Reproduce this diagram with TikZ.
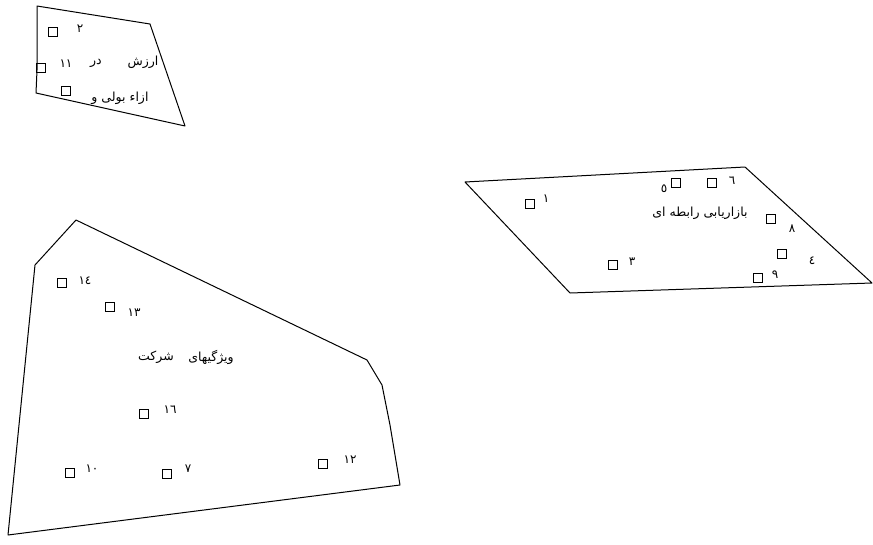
\documentclass[tikz,border=0pt]{standalone}
\usepackage{fontspec}
\TeXXeTstate=1
\newfontfamily\arabicfont[Script=Arabic]{DejaVu Sans}
\begin{document}
\begin{tikzpicture}[x=1pt,y=-1pt,
  sq/.style={draw,line width=0.9pt,minimum size=8.5pt,inner sep=0pt},
  num/.style={font=\arabicfont\fontsize{12}{13}\selectfont,inner sep=0pt},
  ttl/.style={font=\arabicfont\fontsize{12.5}{14}\selectfont,inner sep=0pt},
  edge/.style={line width=1pt,line join=round}]
\useasboundingbox (0,0) rectangle (873,544);
% top-left polygon
\draw[edge] (37,6) -- (150,24) -- (185,126) -- (36,93) -- (37,70) -- cycle;
\node[sq] (s2) at (53,32) {};
\node[num] (l2) at (80,29) {\beginR ٢\endR};
\node[sq] (s11) at (41,68) {};
\node[num] (l11) at (66,64) {\beginR ١١\endR};
\node[ttl] (t1b) at (96,63) {\beginR در\endR};
\node[ttl] (t1a) at (143,62) {\beginR ارزش\endR};
\node[sq] (s15) at (66,91) {};
\node[ttl] (t2) at (120,98) {\beginR ازاء بولی و\endR};
% right polygon
\draw[edge] (465,182) -- (745,167) -- (872,283) -- (570,293) -- cycle;
\node[sq] (s1) at (530,204) {};
\node[num] (l1) at (546,199) {\beginR ١\endR};
\node[sq] (s5) at (676,183) {};
\node[num] (l5) at (664,189) {\beginR ٥\endR};
\node[sq] (s6) at (712,183) {};
\node[num] (l6) at (732,181) {\beginR ٦\endR};
\node[ttl] (t3) at (700,213) {\beginR بازاریابی رابطه ای\endR};
\node[sq] (s8) at (771,219) {};
\node[num] (l8) at (792,229) {\beginR ٨\endR};
\node[sq] (s4) at (782,254) {};
\node[num] (l4) at (812,261) {\beginR ٤\endR};
\node[sq] (s3) at (613,265) {};
\node[num] (l3) at (632,262) {\beginR ٣\endR};
\node[sq] (s9) at (758,278) {};
\node[num] (l9) at (775,275) {\beginR ٩\endR};
% bottom-left polygon
\draw[edge] (76,220) -- (367,360) -- (382,385) -- (390,425) -- (400,485) -- (8,535) -- (35,265) -- cycle;
\node[sq] (s14) at (62,283) {};
\node[num] (l14) at (85,281) {\beginR ١٤\endR};
\node[sq] (s13) at (110,307) {};
\node[num] (l13) at (134,313) {\beginR ١٣\endR};
\node[ttl] (t4a) at (211,357) {\beginR ویژگیهای\endR};
\node[ttl] (t4b) at (156,357) {\beginR شرکت\endR};
\node[sq] (s16) at (144,414) {};
\node[num] (l16) at (170,410) {\beginR ١٦\endR};
\node[sq] (s10) at (70,473) {};
\node[num] (l10) at (92,469) {\beginR ١٠\endR};
\node[sq] (s7) at (167,474) {};
\node[num] (l7) at (188,469) {\beginR ٧\endR};
\node[sq] (s12) at (323,464) {};
\node[num] (l12) at (350,460) {\beginR ١٢\endR};
\end{tikzpicture}
\end{document}
